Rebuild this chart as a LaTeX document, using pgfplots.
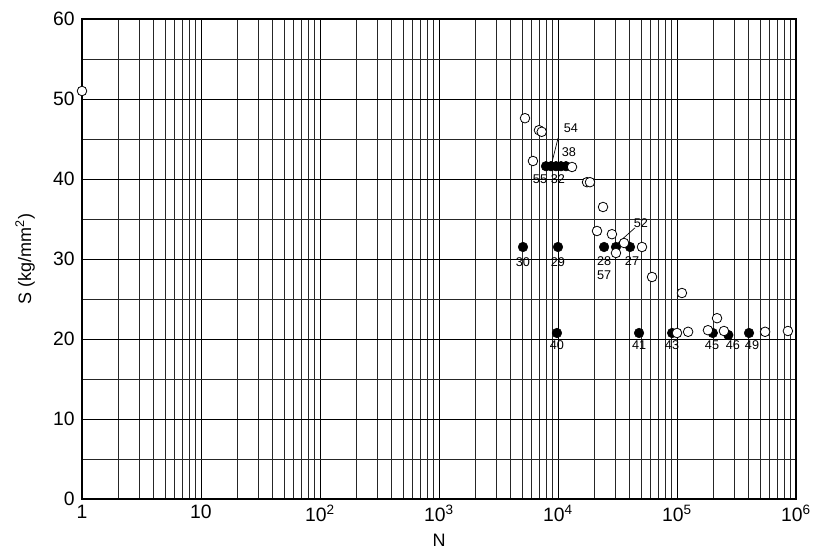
\documentclass[border=0pt]{standalone}
\usepackage{fontspec}
\setmainfont{Liberation Sans}
\usepackage{pgfplots}
\pgfplotsset{compat=1.18}
\begin{document}
\begin{tikzpicture}
\useasboundingbox (0,0) rectangle (612.75pt,414pt);
\begin{axis}[
  at={(61.5pt,39.75pt)}, anchor=south west,
  scale only axis, width=535.5pt, height=360pt,
  xmode=log, log basis x=10,
  xmin=1, xmax=1e6, ymin=0, ymax=60,
  xtick={1,10,100,1000,10000,100000,1000000},
  xticklabels={1,10,10\textsuperscript{2},10\textsuperscript{3},10\textsuperscript{4},10\textsuperscript{5},10\textsuperscript{6}},
  minor xtick={2,3,4,5,6,7,8,9,20,30,40,50,60,70,80,90,200,300,400,500,600,700,800,900,2000,3000,4000,5000,6000,7000,8000,9000,20000,30000,40000,50000,60000,70000,80000,90000,200000,300000,400000,500000,600000,700000,800000,900000},
  ytick={0,10,20,30,40,50,60},
  minor ytick={5,15,25,35,45,55},
  grid=both,
  major grid style={black, line width=0.5pt},
  minor grid style={black!85, line width=0.4pt},
  major tick length=0pt, minor tick length=0pt,
  axis line style={black, line width=0.9pt},
  /pgf/number format/assume math mode=true,
  ticklabel style={font=\fontsize{14.5}{16}\selectfont},
  xticklabel style={yshift=-1pt},
  yticklabel style={xshift=-2pt},
  xlabel={N}, ylabel={S (kg/mm\textsuperscript{2})},
  every axis x label/.style={at={(rel axis cs:0.5,0)}, yshift=-30.75pt, anchor=center, font=\fontsize{13.5}{15}\selectfont},
  every axis y label/.style={at={(rel axis cs:0,0.5)}, xshift=-42.75pt, rotate=90, anchor=center, font=\fontsize{13.5}{15}\selectfont},
  clip=false,
]
% filled (failed / labelled) points
\addplot[only marks, mark=*, mark size=3.6pt, mark options={fill=black, draw=black}] coordinates {
 (7930,41.6) (8730,41.6) (9620,41.6) (10600,41.6) (11670,41.6)
 (5080,31.5) (10000,31.5) (24400,31.5) (30700,31.5) (40300,31.5)
 (9800,20.75) (48000,20.75) (91000,20.75) (200000,20.75) (270000,20.5) (403000,20.75)
};
% open points
\addplot[only marks, mark=*, mark size=3.6pt, mark options={fill=white, draw=black, line width=0.6pt}] coordinates {
 (1,51.0) (5280,47.6) (6160,42.25) (6920,46.1) (7300,45.9)
 (13120,41.5) (17540,39.6) (18570,39.6) (23900,36.5)
 (21270,33.5) (28400,33.1) (30700,30.75) (35900,32.0) (50800,31.5)
 (61700,27.75) (110000,25.75)
 (100000,20.75) (124000,20.9) (182000,21.1) (217000,22.6) (248000,21.0)
 (550000,20.9) (855000,21.0)
};
% labels
\begin{scope}[every node/.style={font=\fontsize{9.5}{11}\selectfont, inner sep=0pt}]
\node at (axis cs:5080,29.6) {30};
\node at (axis cs:10000,29.6) {29};
\node at (axis cs:24400,29.7) {28};
\node at (axis cs:24400,28.0) {57};
\node at (axis cs:41900,29.7) {27};
\node at (axis cs:9800,19.2) {40};
\node at (axis cs:48000,19.2) {41};
\node at (axis cs:90800,19.2) {43};
\node at (axis cs:197000,19.2) {45};
\node at (axis cs:295000,19.2) {46};
\node at (axis cs:427000,19.2) {49};
\node at (axis cs:7060,40.0) {55};
\node at (axis cs:10000,40.0) {32};
\node at (axis cs:12370,43.4) {38};
\node at (axis cs:12850,46.4) {54};
\node at (axis cs:49800,34.5) {52};
\end{scope}
\draw[black, line width=0.5pt] (axis cs:10000,45.1) -- (axis cs:8910,42.1);
\draw[black, line width=0.5pt] (axis cs:44400,33.9) -- (axis cs:31900,32.0);
\end{axis}
\end{tikzpicture}
\end{document}
